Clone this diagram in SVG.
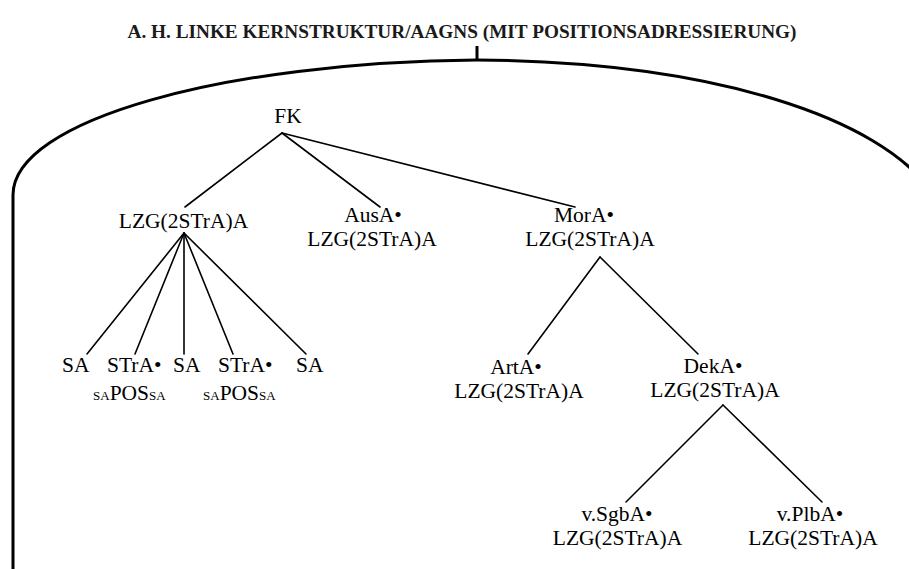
<svg xmlns="http://www.w3.org/2000/svg" width="909" height="569" viewBox="0 0 909 569">
<style>
.t{font-family:"Liberation Serif","Times New Roman",serif;font-size:21.5px;fill:#000}
.m{text-anchor:middle}
.s{font-size:13px}
.title{font-family:"Liberation Serif","Times New Roman",serif;font-size:18.5px;font-weight:bold;fill:#1a1a1a}
.e{stroke:#000;stroke-width:1.6;fill:none;stroke-linecap:round}
.frame{stroke:#000;stroke-width:3;fill:none}
</style>
<rect width="909" height="569" fill="#fff"/>
<g id="title"><text class="title" x="462" y="38" text-anchor="middle" textLength="669" lengthAdjust="spacingAndGlyphs">A. H. LINKE KERNSTRUKTUR/AAGNS (MIT POSITIONSADRESSIERUNG)</text></g>
<g id="frame">
<line class="frame" x1="477" y1="46" x2="477" y2="61"/>
<path class="frame" d="M13,569 V195 C13,120 225,62 477,60 C720,62 880,120 930,190"/>
</g>
<g id="connectors">
<line class="e" x1="282" y1="133" x2="185" y2="207"/>
<line class="e" x1="282" y1="133" x2="380" y2="207"/>
<line class="e" x1="282" y1="133" x2="575" y2="207"/>
<line class="e" x1="184" y1="233" x2="87" y2="354"/>
<line class="e" x1="184" y1="233" x2="135" y2="354"/>
<line class="e" x1="184" y1="233" x2="184" y2="354"/>
<line class="e" x1="184" y1="233" x2="233" y2="354"/>
<line class="e" x1="184" y1="233" x2="306" y2="354"/>
<line class="e" x1="600" y1="257" x2="528" y2="354"/>
<line class="e" x1="600" y1="257" x2="698" y2="354"/>
<line class="e" x1="723" y1="405" x2="626" y2="502"/>
<line class="e" x1="723" y1="405" x2="822" y2="502"/>
</g>
<g id="n-fk"><text class="t m" x="288" y="123">FK</text></g>
<g id="n-lzg"><text class="t m" x="183.5" y="228">LZG(2STrA)A</text></g>
<g id="n-sa1"><text class="t" x="62" y="372">SA</text></g>
<g id="n-stra1"><text class="t" x="107" y="372">STrA•</text><text class="t" x="93" y="400"><tspan class="s">SA</tspan>POS<tspan class="s">SA</tspan></text></g>
<g id="n-sa2"><text class="t" x="173" y="372">SA</text></g>
<g id="n-stra2"><text class="t" x="218" y="372">STrA•</text><text class="t" x="203" y="400"><tspan class="s">SA</tspan>POS<tspan class="s">SA</tspan></text></g>
<g id="n-sa3"><text class="t" x="296" y="372">SA</text></g>
<g id="n-ausa"><text class="t m" x="373" y="222">AusA•</text><text class="t m" x="372" y="246">LZG(2STrA)A</text></g>
<g id="n-mora"><text class="t m" x="584" y="222">MorA•</text><text class="t m" x="590" y="246">LZG(2STrA)A</text></g>
<g id="n-arta"><text class="t m" x="516" y="374">ArtA•</text><text class="t m" x="519" y="398">LZG(2STrA)A</text></g>
<g id="n-deka"><text class="t m" x="713" y="373">DekA•</text><text class="t m" x="715" y="397">LZG(2STrA)A</text></g>
<g id="n-sgba"><text class="t m" x="617" y="521">v.SgbA•</text><text class="t m" x="617.5" y="545">LZG(2STrA)A</text></g>
<g id="n-plba"><text class="t m" x="810" y="521">v.PlbA•</text><text class="t m" x="813" y="545">LZG(2STrA)A</text></g>
</svg>
